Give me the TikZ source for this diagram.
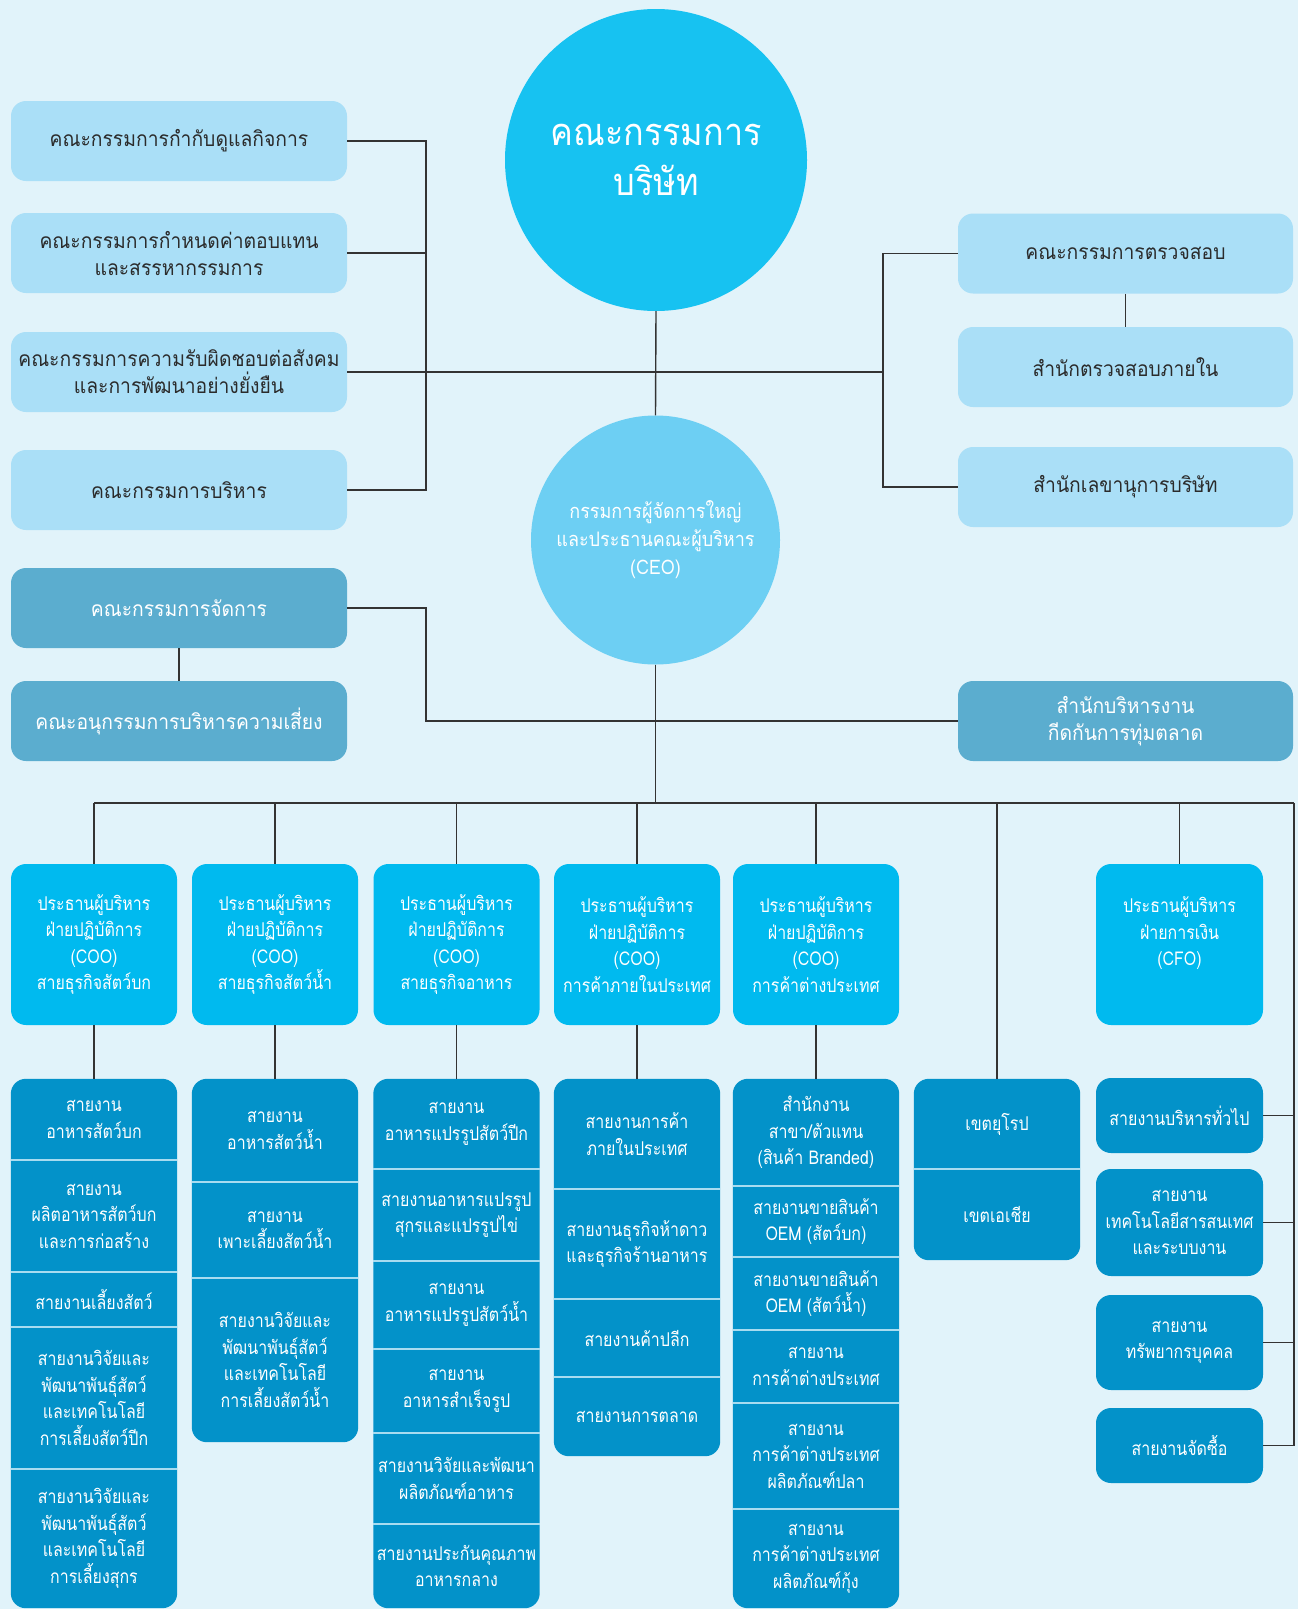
\documentclass[tikz,border=0pt]{standalone}
\usepackage{fontspec}
\setmainfont[Script=Thai]{Loma}
\newfontfamily\thaiwide[Script=Thai,FakeStretch=0.92]{Loma}
\newfontfamily\thainarrow[Script=Thai,FakeStretch=0.84]{Loma}
\newfontfamily\thaimid[Script=Thai,FakeStretch=0.9]{Loma}
\definecolor{bg}{HTML}{E1F3FA}
\definecolor{lightc}{HTML}{AADFF7}
\definecolor{boardc}{HTML}{17C2F1}
\definecolor{ceoc}{HTML}{6DCFF3}
\definecolor{mgc}{HTML}{5BADCF}
\definecolor{cooc}{HTML}{00BAEF}
\definecolor{subc}{HTML}{0392C9}
\definecolor{sepc}{HTML}{A8DCF0}
\definecolor{linec}{HTML}{333333}
\definecolor{txtd}{HTML}{2B2B2B}
\pgfdeclarelayer{back}
\pgfsetlayers{back,main}
\tikzset{
  widefont/.style={font=\thaiwide\fontsize{21pt}{27pt}\selectfont},
  basefont/.style={font=\thainarrow\fontsize{19pt}{26.5pt}\selectfont},
  lightbox/.style={rectangle, rounded corners=15pt, fill=lightc, text=txtd, align=center, widefont, minimum width=336pt, minimum height=80pt, inner sep=0pt},
  mgbox/.style={lightbox, fill=mgc, text=white},
  coobox/.style={rectangle, rounded corners=15pt, fill=cooc, text=white, align=center, basefont, minimum width=166pt, minimum height=161pt, inner sep=0pt},
  subbox/.style={rectangle, rounded corners=15pt, fill=subc, text=white, align=center, basefont, minimum width=167pt, inner sep=0pt},
  sec/.style={rectangle, text=white, align=center, basefont, minimum width=166pt, inner sep=0pt},
  conn/.style={draw=linec, line width=1.4pt},
  sepline/.style={draw=sepc, line width=1.5pt},
}
\begin{document}
\begin{tikzpicture}[x=1pt,y=-1pt]
\begin{pgfonlayer}{back}
\fill[bg] (0,0) rectangle (1298,1609);
\end{pgfonlayer}
\useasboundingbox (0,0) rectangle (1298,1609);

% top circles
\node[circle, fill=boardc, minimum size=302pt, inner sep=0pt, text=white, align=center, font=\thaimid\fontsize{38pt}{50pt}\selectfont] (board) at (656,160) {คณะกรรมการ\\บริษัท};
\node[circle, fill=ceoc, minimum size=249pt, inner sep=0pt, text=white, align=center, font=\thaimid\fontsize{20pt}{28pt}\selectfont] (ceo) at (655.5,540) {กรรมการผู้จัดการใหญ่\\และประธานคณะผู้บริหาร\\(CEO)};

% left committees
\node[lightbox] (k1) at (179,141) {คณะกรรมการกำกับดูแลกิจการ};
\node[lightbox] (k2) at (179,253) {คณะกรรมการกำหนดค่าตอบแทน\\และสรรหากรรมการ};
\node[lightbox] (k3) at (179,372) {คณะกรรมการความรับผิดชอบต่อสังคม\\และการพัฒนาอย่างยั่งยืน};
\node[lightbox] (k4) at (179,490) {คณะกรรมการบริหาร};

% right committees
\node[lightbox, minimum width=335pt] (a1) at (1125.5,253.5) {คณะกรรมการตรวจสอบ};
\node[lightbox, minimum width=335pt] (a2) at (1125.5,367) {สำนักตรวจสอบภายใน};
\node[lightbox, minimum width=335pt] (a3) at (1125.5,487) {สำนักเลขานุการบริษัท};

% management
\node[mgbox] (m1) at (179,608) {คณะกรรมการจัดการ};
\node[mgbox] (m2) at (179,721) {คณะอนุกรรมการบริหารความเสี่ยง};
\node[mgbox, minimum width=335pt] (dump) at (1125.5,721) {สำนักบริหารงาน\\กีดกันการทุ่มตลาด};

% COO / CFO
\node[coobox] (coo1) at (94,944.5) {ประธานผู้บริหาร\\ฝ่ายปฏิบัติการ\\(COO)\\สายธุรกิจสัตว์บก};
\node[coobox] (coo2) at (275,944.5) {ประธานผู้บริหาร\\ฝ่ายปฏิบัติการ\\(COO)\\สายธุรกิจสัตว์น้ำ};
\node[coobox] (coo3) at (456.5,944.5) {ประธานผู้บริหาร\\ฝ่ายปฏิบัติการ\\(COO)\\สายธุรกิจอาหาร};
\node[coobox] (coo4) at (637,944.5) {ประธานผู้บริหาร\\ฝ่ายปฏิบัติการ\\(COO)\\การค้าภายในประเทศ};
\node[coobox] (coo5) at (816,944.5) {ประธานผู้บริหาร\\ฝ่ายปฏิบัติการ\\(COO)\\การค้าต่างประเทศ};
\node[coobox, minimum width=167pt] (cfo) at (1179.5,944.5) {ประธานผู้บริหาร\\ฝ่ายการเงิน\\(CFO)\\\mbox{}};

% column 1
\node[sec, minimum height=81pt] (s11) at (94,1119.5) {สายงาน\\อาหารสัตว์บก};
\node[sec, minimum height=112pt] (s12) at (94,1216) {สายงาน\\ผลิตอาหารสัตว์บก\\และการก่อสร้าง};
\node[sec, minimum height=55pt] (s13) at (94,1299.5) {สายงานเลี้ยงสัตว์};
\node[sec, minimum height=142pt] (s14) at (94,1398) {สายงานวิจัยและ\\พัฒนาพันธุ์สัตว์\\และเทคโนโลยี\\การเลี้ยงสัตว์ปีก};
\node[sec, minimum height=139pt] (s15) at (94,1538.5) {สายงานวิจัยและ\\พัฒนาพันธุ์สัตว์\\และเทคโนโลยี\\การเลี้ยงสุกร};

% column 2
\node[sec, minimum height=103pt] (s21) at (275,1130.5) {สายงาน\\อาหารสัตว์น้ำ};
\node[sec, minimum height=96pt] (s22) at (275,1230) {สายงาน\\เพาะเลี้ยงสัตว์น้ำ};
\node[sec, minimum height=164pt] (s23) at (275,1360) {สายงานวิจัยและ\\พัฒนาพันธุ์สัตว์\\และเทคโนโลยี\\การเลี้ยงสัตว์น้ำ};

% column 3
\node[sec, minimum height=90pt] (s31) at (456.5,1124) {สายงาน\\อาหารแปรรูปสัตว์ปีก};
\node[sec, minimum height=92pt] (s32) at (456.5,1215) {สายงานอาหารแปรรูป\\สุกรและแปรรูปไข่};
\node[sec, minimum height=88pt] (s33) at (456.5,1305) {สายงาน\\อาหารแปรรูปสัตว์น้ำ};
\node[sec, minimum height=84pt] (s34) at (456.5,1391) {สายงาน\\อาหารสำเร็จรูป};
\node[sec, minimum height=91pt] (s35) at (456.5,1478.5) {สายงานวิจัยและพัฒนา\\ผลิตภัณฑ์อาหาร};
\node[sec, minimum height=84pt] (s36) at (456.5,1566) {สายงานประกันคุณภาพ\\อาหารกลาง};

% column 4
\node[sec, minimum height=110pt] (s41) at (637,1134) {สายงานการค้า\\ภายในประเทศ};
\node[sec, minimum height=110pt] (s42) at (637,1244) {สายงานธุรกิจห้าดาว\\และธุรกิจร้านอาหาร};
\node[sec, minimum height=78pt] (s43) at (637,1338) {สายงานค้าปลีก};
\node[sec, minimum height=79pt] (s44) at (637,1416.5) {สายงานการตลาด};

% column 5
\node[sec, minimum height=107pt] (s51) at (816,1132.5) {สำนักงาน\\สาขา/ตัวแทน\\(สินค้า Branded)};
\node[sec, minimum height=71pt] (s52) at (816,1221.5) {สายงานขายสินค้า\\OEM (สัตว์บก)};
\node[sec, minimum height=73pt] (s53) at (816,1293.5) {สายงานขายสินค้า\\OEM (สัตว์น้ำ)};
\node[sec, minimum height=73pt] (s54) at (816,1366.5) {สายงาน\\การค้าต่างประเทศ};
\node[sec, minimum height=106pt] (s55) at (816,1456) {สายงาน\\การค้าต่างประเทศ\\ผลิตภัณฑ์ปลา};
\node[sec, minimum height=99pt] (s56) at (816,1558.5) {สายงาน\\การค้าต่างประเทศ\\ผลิตภัณฑ์กุ้ง};

% column 6
\node[sec, minimum height=90pt] (s61) at (997,1124) {เขตยุโรป};
\node[sec, minimum height=91pt] (s62) at (997,1214.5) {เขตเอเชีย};

% CFO units
\node[subbox, minimum height=75pt] (f1) at (1179.5,1115.5) {สายงานบริหารทั่วไป};
\node[subbox, minimum height=107pt] (f2) at (1179.5,1222.5) {สายงาน\\เทคโนโลยีสารสนเทศ\\และระบบงาน};
\node[subbox, minimum height=95pt] (f3) at (1179.5,1342.5) {สายงาน\\ทรัพยากรบุคคล};
\node[subbox, minimum height=75pt] (f4) at (1179.5,1445.5) {สายงานจัดซื้อ};

% column backgrounds
\begin{pgfonlayer}{back}
\fill[subc, rounded corners=15pt] (s11.north west) rectangle (s15.south east);
\fill[subc, rounded corners=15pt] (s21.north west) rectangle (s23.south east);
\fill[subc, rounded corners=15pt] (s31.north west) rectangle (s36.south east);
\fill[subc, rounded corners=15pt] (s41.north west) rectangle (s44.south east);
\fill[subc, rounded corners=15pt] (s51.north west) rectangle (s56.south east);
\fill[subc, rounded corners=15pt] (s61.north west) rectangle (s62.south east);
\end{pgfonlayer}

% separators
\foreach \s in {s11,s12,s13,s14,s21,s22,s31,s32,s33,s34,s35,s41,s42,s43,s51,s52,s53,s54,s55,s61}
  \draw[sepline] (\s.south west) -- (\s.south east);

% connectors
\coordinate (lb) at (426,372);
\coordinate (rb) at (883,372);
\coordinate (mj) at (426,721);
\coordinate (busl) at (94,803);
\coordinate (busc) at (655.5,803);
\coordinate (busr) at (1294,803);

\draw[conn] (board.south) -- (ceo.north);
\draw[conn] (k3.east) -- (rb);
\draw[conn] (k1.east) -| (lb) |- (k4.east);
\draw[conn] (k2.east) -- (k2.east -| lb);
\draw[conn] (a1.west) -| (rb) |- (a3.west);
\draw[conn] (a1.south) -- (a2.north);
\draw[conn] (m1.south) -- (m2.north);
\draw[conn] (m1.east) -| (mj) -- (dump.west);
\draw[conn] (ceo.south) -- (busc);
\draw[conn] (busl) -- (busr);
\foreach \c in {coo1,coo2,coo3,coo4,coo5,cfo}
  \draw[conn] (\c.north |- busl) -- (\c.north);
\draw[conn] (s61.north |- busl) -- (s61.north);
\draw[conn] (coo1.south) -- (s11.north);
\draw[conn] (coo2.south) -- (s21.north);
\draw[conn] (coo3.south) -- (s31.north);
\draw[conn] (coo4.south) -- (s41.north);
\draw[conn] (coo5.south) -- (s51.north);
\draw[conn] (busr) |- (f4.east);
\foreach \f in {f1,f2,f3}
  \draw[conn] (\f.east) -- (\f.east -| busr);
\end{tikzpicture}
\end{document}
